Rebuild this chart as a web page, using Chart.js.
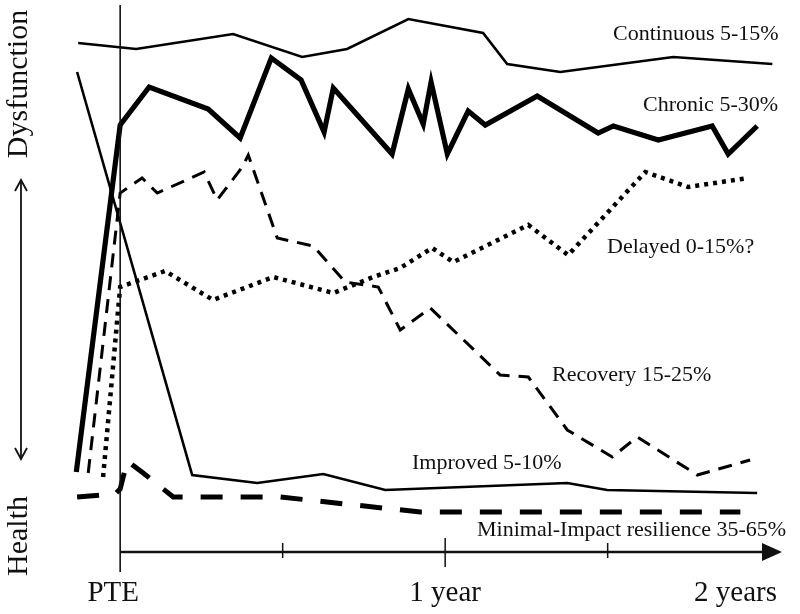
<!DOCTYPE html>
<html>
<head>
<meta charset="utf-8">
<script src="https://cdn.jsdelivr.net/npm/chart.js@4/dist/chart.umd.min.js"></script>
<style>
html,body{margin:0;padding:0;background:#fff;}
canvas{display:block;}
</style>
</head>
<body>
<canvas id="c" width="800" height="614"></canvas>
<script>
// x: months since the potentially traumatic event (PTE); y: dysfunction level (0 = health)
const continuousX = [-1.55, 0.59, 4.17, 6.72, 8.38, 10.64, 13.40, 14.29, 16.25, 20.42, 24.08];
const continuousY = [101.4, 100.2, 103.2, 98.6, 100.2, 106.2, 103.4, 97.2, 95.6, 98.6, 97.2];

const chronicX = [-1.62, 0, 1.07, 3.25, 4.43, 5.58, 6.68, 7.53, 7.87, 10.04, 10.64, 11.19, 11.48, 12.08, 12.85, 13.48, 15.40, 17.65, 18.21, 19.87, 21.86, 22.45, 23.52];
const chronicY = [15.6, 85, 92.6, 88.2, 82.4, 98.4, 94, 83.6, 92.4, 79.2, 92.2, 85.2, 93.6, 79.2, 87.8, 85, 90.8, 83.4, 84.8, 82, 84.8, 79.2, 84.8];

const delayedX = [-0.63, 0, 1.66, 3.43, 5.65, 7.87, 9.34, 10.34, 11.52, 12.30, 15.07, 16.54, 19.39, 20.97, 23.19];
const delayedY = [14.6, 52.6, 55.8, 50, 54.6, 51.4, 54.6, 56.4, 60.4, 57.6, 65, 59, 75.6, 72.6, 74.4];

const recoveryX = [-1.18, 0, 0.81, 1.37, 3.10, 3.58, 4.51, 4.73, 5.80, 7.13, 8.31, 9.53, 10.34, 11.45, 14.03, 15.07, 16.51, 18.17, 19.09, 21.31, 23.26];
const recoveryY = [15.4, 71.4, 74.4, 71.4, 75.6, 70, 76.6, 79, 62.4, 60.8, 53.6, 52.6, 44, 48.4, 35, 34.6, 24, 18.6, 22.6, 15, 18];

const improvedX = [-1.59, 2.66, 5.06, 7.50, 9.79, 16.51, 17.98, 23.52];
const improvedY = [95.6, 15, 13.4, 15.2, 12, 13.4, 12, 11.4];

const resilienceX = [-1.59, -0.18, 0, 0.26, 0.85, 1.96, 5.91, 11.08, 22.90];
const resilienceY = [10.6, 11.2, 12.2, 17.8, 15.4, 10.6, 10.6, 7.6, 7.6];

const trajectoryNames = ["Continuous 5-15%", "Chronic 5-30%", "Delayed 0-15%?", "Recovery 15-25%", "Improved 5-10%", "Minimal-Impact resilience 35-65%"];
const tickValues = [0, 12, 24];
const tickLabels = ["PTE", "1 year", "2 years"];
const minorTickValues = [6, 18];
const axisLabels = ["Dysfunction", "Health"];

function pts(xs, ys) { return xs.map((x, i) => ({ x: x, y: ys[i] })); }

const SERIF = '"Liberation Serif", "Times New Roman", serif';

const decor = {
  id: 'decor',
  afterDatasetsDraw(chart) {
    const ctx = chart.ctx;
    const xs = chart.scales.x, ys = chart.scales.y;
    const x0 = xs.getPixelForValue(0);
    const yAxis = ys.getPixelForValue(-0.4);
    ctx.save();
    ctx.strokeStyle = '#111';
    ctx.fillStyle = '#111';
    // vertical axis line
    ctx.lineWidth = 1.6;
    ctx.beginPath();
    ctx.moveTo(x0, 5);
    ctx.lineTo(x0, 572);
    ctx.stroke();
    // horizontal axis with arrow
    ctx.lineWidth = 2.5;
    ctx.beginPath();
    ctx.moveTo(x0, yAxis);
    ctx.lineTo(766, yAxis);
    ctx.stroke();
    ctx.beginPath();
    ctx.moveTo(782, yAxis);
    ctx.lineTo(762, yAxis - 9);
    ctx.lineTo(762, yAxis + 9);
    ctx.closePath();
    ctx.fill();
    // ticks
    ctx.lineWidth = 1.5;
    minorTickValues.forEach(v => {
      const p = xs.getPixelForValue(v);
      ctx.beginPath(); ctx.moveTo(p, yAxis - 9); ctx.lineTo(p, yAxis + 6); ctx.stroke();
    });
    const p12 = xs.getPixelForValue(12);
    ctx.beginPath(); ctx.moveTo(p12, yAxis - 14); ctx.lineTo(p12, yAxis + 15); ctx.stroke();
    // tick labels
    ctx.font = '29px ' + SERIF;
    ctx.textBaseline = 'alphabetic';
    ctx.textAlign = 'center';
    const tp = tickValues.map(v => xs.getPixelForValue(v));
    ctx.fillText(tickLabels[0], tp[0] - 7, 601);
    ctx.fillText(tickLabels[1], tp[1], 601);
    ctx.textAlign = 'right';
    ctx.fillText(tickLabels[2], 777, 601);
    // vertical labels
    ctx.font = '30px ' + SERIF;
    ctx.textAlign = 'center';
    ctx.save();
    ctx.translate(27, 84);
    ctx.rotate(-Math.PI / 2);
    ctx.fillText(axisLabels[0], 0, 0);
    ctx.restore();
    ctx.save();
    ctx.translate(27, 536);
    ctx.rotate(-Math.PI / 2);
    ctx.fillText(axisLabels[1], 0, 0);
    ctx.restore();
    // double arrow
    ctx.lineWidth = 1.8;
    ctx.beginPath();
    ctx.moveTo(21, 181); ctx.lineTo(21, 458);
    ctx.stroke();
    ctx.beginPath();
    ctx.moveTo(15, 191); ctx.lineTo(21, 180); ctx.lineTo(27, 191);
    ctx.moveTo(15, 448); ctx.lineTo(21, 459); ctx.lineTo(27, 448);
    ctx.stroke();
    // trajectory labels
    ctx.font = '22px ' + SERIF;
    ctx.textAlign = 'left';
    ctx.textBaseline = 'middle';
    const pos = [[613, 34], [643, 105], [607, 247], [552, 375], [412, 463], [477, 530]];
    trajectoryNames.forEach((t, i) => ctx.fillText(t, pos[i][0], pos[i][1]));
    ctx.restore();
  }
};

const common = { fill: false, tension: 0, pointRadius: 0, borderColor: '#000', borderJoinStyle: 'miter', borderCapStyle: 'butt' };

new Chart(document.getElementById('c'), {
  type: 'line',
  data: {
    datasets: [
      Object.assign({}, common, { label: trajectoryNames[0], data: pts(continuousX, continuousY), borderWidth: 2.6 }),
      Object.assign({}, common, { label: trajectoryNames[1], data: pts(chronicX, chronicY), borderWidth: 5.2 }),
      Object.assign({}, common, { label: trajectoryNames[2], data: pts(delayedX, delayedY), borderWidth: 4.5, borderDash: [4, 5] }),
      Object.assign({}, common, { label: trajectoryNames[3], data: pts(recoveryX, recoveryY), borderWidth: 3, borderDash: [14, 9] }),
      Object.assign({}, common, { label: trajectoryNames[4], data: pts(improvedX, improvedY), borderWidth: 2.6 }),
      Object.assign({}, common, { label: trajectoryNames[5], data: pts(resilienceX, resilienceY), borderWidth: 5, borderDash: [22, 18] })
    ]
  },
  options: {
    responsive: false,
    animation: false,
    layout: { padding: { left: 66, right: 19, top: 5, bottom: 64 } },
    plugins: { legend: { display: false }, tooltip: { enabled: false } },
    scales: {
      x: { type: 'linear', min: -2, max: 24.4, display: false },
      y: { type: 'linear', min: 0, max: 109, display: false }
    }
  },
  plugins: [decor]
});
</script>
</body>
</html>
